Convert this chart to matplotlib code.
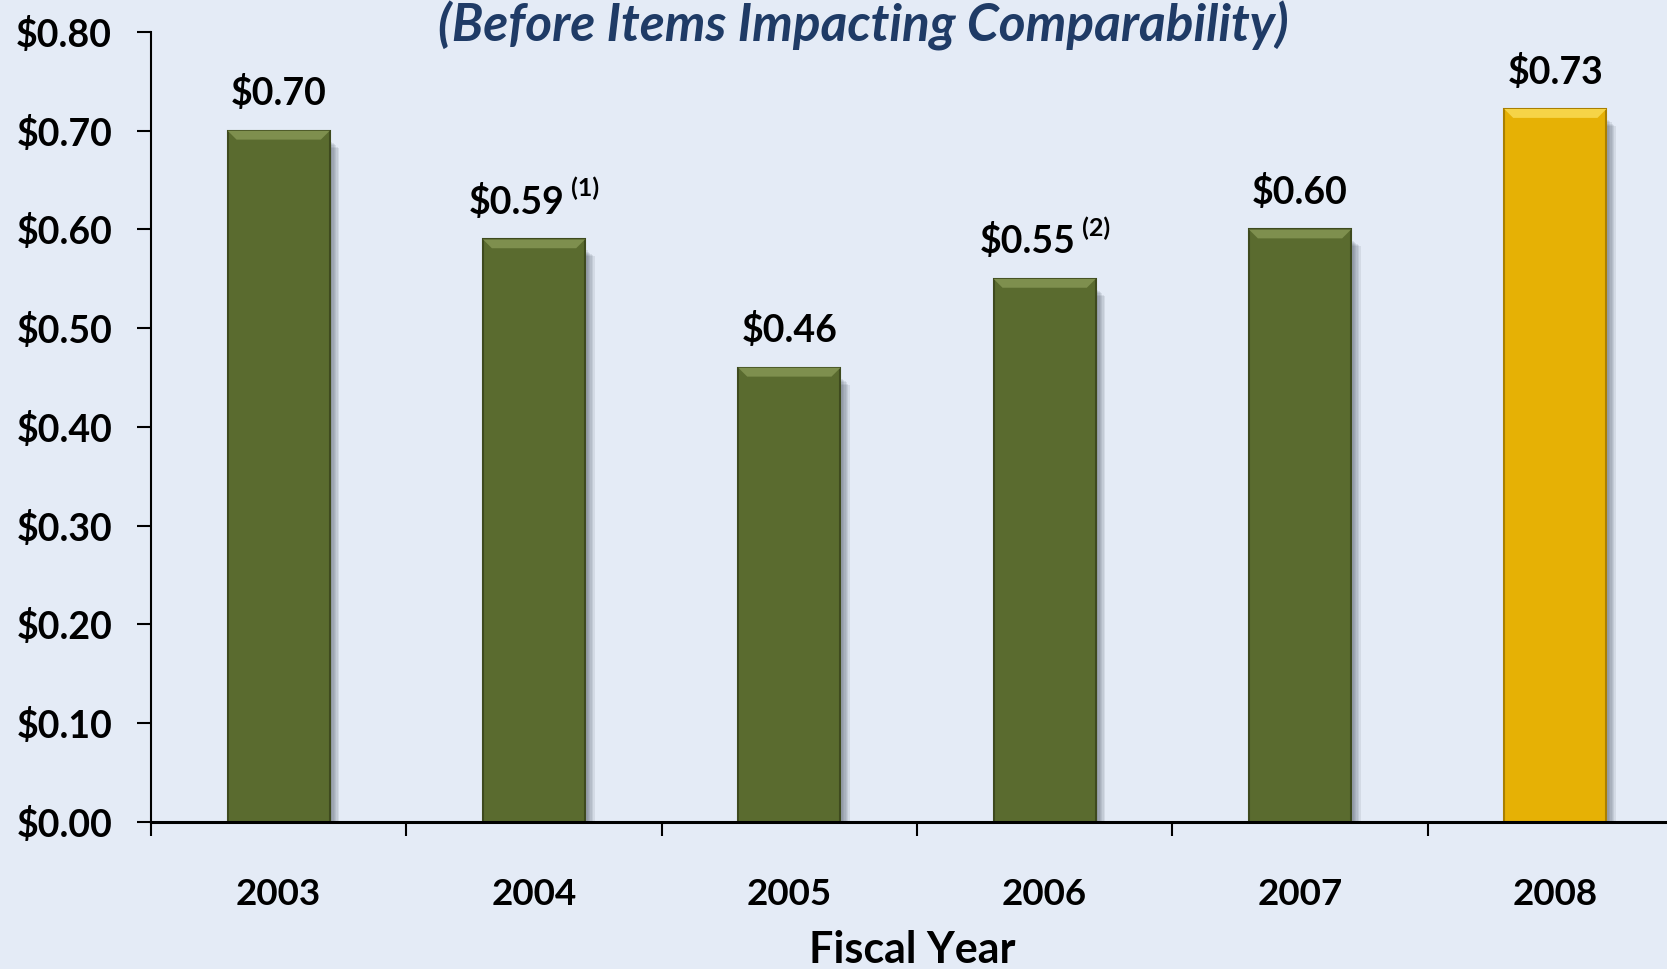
import matplotlib
matplotlib.use("Agg")
import matplotlib.pyplot as plt
from matplotlib.patches import Polygon
from matplotlib.ticker import FixedLocator, FuncFormatter

# ---- data ----
years = ["2003", "2004", "2005", "2006", "2007", "2008"]
eps_values = [0.70, 0.59, 0.46, 0.55, 0.60, 0.722]
eps_labels = ["$0.70", "$0.59", "$0.46", "$0.55", "$0.60", "$0.73"]
footnotes = ["", "(1)", "", "(2)", "", ""]
y_ticks = [0.0, 0.1, 0.2, 0.3, 0.4, 0.5, 0.6, 0.7, 0.8]
title_text = "(Before Items Impacting Comparability)"
x_title = "Fiscal Year"

# ---- style ----
BG = "#E4EBF6"
GREEN = "#5A6B2F"
GREEN_DARK = "#3E4A1E"
GREEN_LIGHT = "#7E8F4E"
GOLD = "#E6B105"
GOLD_DARK = "#A97F00"
GOLD_LIGHT = "#F6D447"
TITLE_COLOR = "#1F3B66"
FONT = "Lato"

plt.rcParams["font.family"] = [FONT, "DejaVu Sans"]

fig = plt.figure(figsize=(16.67, 9.69), dpi=100, facecolor=BG)
ax = fig.add_axes([0.0906, 0.1517, 0.919, 0.8153])
ax.set_facecolor(BG)

x = list(range(len(years)))
bw = 0.4
colors = [GREEN] * 5 + [GOLD]
darks = [GREEN_DARK] * 5 + [GOLD_DARK]
lights = [GREEN_LIGHT] * 5 + [GOLD_LIGHT]

# soft shadows to the right of each bar
for k in range(7):
    off = 0.004 + k * 0.0055
    ax.bar([xi + off for xi in x], [v - 0.004 - k * 0.0012 for v in eps_values],
           width=bw, bottom=-0.006, color="#4a5260", alpha=0.11, linewidth=0,
           zorder=1)

ax.bar(x, eps_values, width=bw, color=colors, edgecolor=darks,
       linewidth=1.5, zorder=3)

# top bevel
bev_h = 0.009
bev_w = 0.035
for xi, v, lc in zip(x, eps_values, lights):
    l, r = xi - bw / 2, xi + bw / 2
    poly = Polygon([(l, v), (r, v), (r - bev_w, v - bev_h), (l + bev_w, v - bev_h)],
                   closed=True, facecolor=lc, edgecolor="none", zorder=4)
    ax.add_patch(poly)

ax.set_xlim(-0.5, len(years) - 0.5)
ax.set_ylim(0, 0.8)

# axes styling
for s in ["top", "right"]:
    ax.spines[s].set_visible(False)
ax.spines["left"].set_linewidth(1.5)
ax.spines["bottom"].set_linewidth(2.2)
ax.spines["left"].set_zorder(5)
ax.spines["bottom"].set_zorder(5)

ax.yaxis.set_major_locator(FixedLocator(y_ticks))
ax.yaxis.set_major_formatter(FuncFormatter(lambda v, p: "\\$%.2f" % v))
ax.tick_params(axis="y", direction="out", length=10, width=1.5, pad=18,
               labelsize=27)
for lab in ax.get_yticklabels():
    lab.set_fontweight("bold")

ax.xaxis.set_major_locator(FixedLocator([i - 0.5 for i in range(len(years) + 1)]))
ax.xaxis.set_major_formatter(FuncFormatter(lambda v, p: ""))
ax.xaxis.set_minor_locator(FixedLocator(x))
ax.set_xticklabels(years, minor=True)
ax.tick_params(axis="x", which="major", direction="out", length=10, width=1.5)
ax.tick_params(axis="x", which="minor", length=0, pad=40, labelsize=26.5)
for lab in ax.get_xticklabels(minor=True):
    lab.set_fontweight("bold")

# value labels
fig.canvas.draw()
renderer = fig.canvas.get_renderer()
FN_SIZE = 18
for xi, v, lab, fn in zip(x, eps_values, eps_labels, footnotes):
    main = lab.replace("$", "\\$")
    if fn:
        tfn = ax.text(0, 0, " " + fn, fontsize=FN_SIZE, fontweight="bold")
        wfn = tfn.get_window_extent(renderer).width
        tfn.remove()
        t = ax.annotate(main, xy=(xi, v), xytext=(-wfn / 2 * 0.72, 14),
                        textcoords="offset points", ha="center", va="bottom",
                        fontsize=27, fontweight="bold", zorder=6)
        ax.annotate(" " + fn, xy=(1, 0.55), xycoords=t, ha="left", va="bottom",
                    fontsize=FN_SIZE, fontweight="bold", zorder=6)
    else:
        ax.annotate(main, xy=(xi, v), xytext=(0, 14), textcoords="offset points",
                    ha="center", va="bottom", fontsize=27, fontweight="bold",
                    zorder=6)

fig.text(0.5474, 0.0196, x_title, ha="center", va="center", fontsize=31,
         fontweight="bold")
fig.text(0.518, 0.999, title_text, ha="center", va="top", fontsize=37,
         fontweight="bold", fontstyle="italic", color=TITLE_COLOR)

fig.savefig("out.png", dpi=100, facecolor=BG)
